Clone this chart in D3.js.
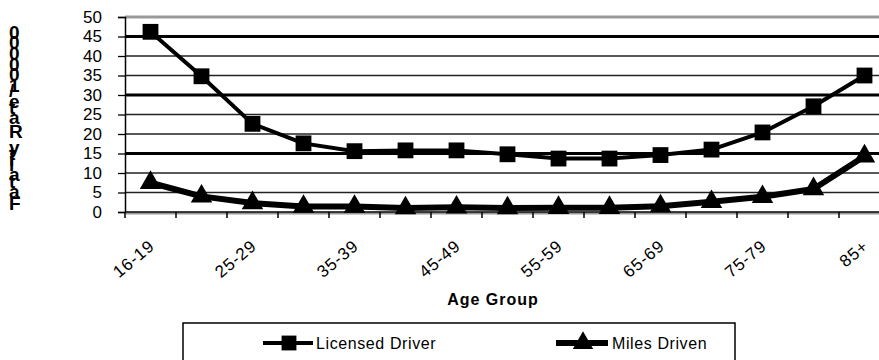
<!DOCTYPE html>
<html><head><meta charset="utf-8">
<script src="https://cdn.jsdelivr.net/npm/d3@7"></script>
<style>body{margin:0;background:#fff}svg{display:block}text{font-family:"Liberation Sans",Arial,sans-serif}</style>
</head><body>
<svg id="c" width="879" height="360"></svg>
<script>
const categories = ["16-19","20-24","25-29","30-34","35-39","40-44","45-49","50-54","55-59","60-64","65-69","70-74","75-79","80-84","85+"];
const licensedDriver = [46.2, 34.8, 22.6, 17.6, 15.6, 15.8, 15.8, 14.8, 13.7, 13.7, 14.6, 16.0, 20.4, 27.1, 35.0];
const milesDriven = [7.5, 4.0, 2.3, 1.4, 1.4, 1.0, 1.2, 1.0, 1.1, 1.1, 1.5, 2.6, 3.9, 5.9, 14.3];
const yTicks = [0,5,10,15,20,25,30,35,40,45,50];
const majorGrid = [15,30,45];
const shownLabels = ["16-19","25-29","35-39","45-49","55-59","65-69","75-79","85+"];
const yLabel = "Fatality Rate/100000";
const xLabel = "Age Group";
const seriesNames = ["Licensed Driver","Miles Driven"];

const svg = d3.select("#c");
const L = 125, T = 17, B = 212, step = 51;
const x = d3.scaleBand().domain(categories).range([L, L + step*categories.length]).padding(0);
const y = d3.scaleLinear().domain([0,50]).range([B, T]);
const cx = d => x(d) + x.bandwidth()/2;

// gridlines
svg.append("g").selectAll("line").data(yTicks.filter(v=>v>0 && v<50)).join("line")
  .attr("x1", L).attr("x2", 879).attr("y1", d=>y(d)).attr("y2", d=>y(d))
  .attr("stroke", d=>majorGrid.includes(d)?"#000":"#222")
  .attr("stroke-width", d=>majorGrid.includes(d)?3:1.3);
// top border
svg.append("line").attr("x1",L).attr("x2",879).attr("y1",y(50)).attr("y2",y(50)).attr("stroke","#999").attr("stroke-width",3);

// y axis
const ya = svg.append("g").attr("transform",`translate(${L},0)`)
  .call(d3.axisLeft(y).tickValues(yTicks).tickSize(7).tickPadding(16));
ya.select(".domain").attr("stroke","#000").attr("stroke-width",1.5);
ya.selectAll(".tick line").attr("stroke","#000").attr("stroke-width",1.3);
ya.selectAll(".tick text").attr("font-size",17).attr("fill","#000").attr("font-family","Liberation Sans, Arial, sans-serif");

// x axis
svg.append("line").attr("x1",L).attr("x2",879).attr("y1",B+1.5).attr("y2",B+1.5).attr("stroke","#999").attr("stroke-width",2);
const xa = svg.append("g").attr("transform",`translate(0,${B})`)
  .call(d3.axisBottom(x).tickSize(0).tickFormat(d=>shownLabels.includes(d)?d:""));
xa.select(".domain").remove();
svg.append("line").attr("x1",L).attr("x2",879).attr("y1",B).attr("y2",B).attr("stroke","#000").attr("stroke-width",1.5);
svg.append("g").selectAll("line").data(categories.concat(["_end"])).join("line")
  .attr("x1",(d,i)=>L+i*x.bandwidth()).attr("x2",(d,i)=>L+i*x.bandwidth())
  .attr("y1",B).attr("y2",B+6).attr("stroke","#000").attr("stroke-width",1.5);
xa.selectAll(".tick text")
  .attr("font-size",17).attr("fill","#000").attr("font-family","Liberation Sans, Arial, sans-serif")
  .attr("letter-spacing",0.8)
  .attr("text-anchor","end").attr("dy",0).attr("y",0)
  .attr("transform","translate(5,36) rotate(-40)");

// lines
const line = d3.line().x((d,i)=>cx(categories[i])).y(d=>y(d));
svg.append("path").datum(licensedDriver).attr("d",line).attr("fill","none").attr("stroke","#000").attr("stroke-width",4).attr("stroke-linejoin","round");
svg.append("path").datum(milesDriven).attr("d",line).attr("fill","none").attr("stroke","#000").attr("stroke-width",6).attr("stroke-linejoin","round");

svg.append("g").selectAll("path").data(licensedDriver).join("path")
  .attr("d", d3.symbol(d3.symbolSquare, 250))
  .attr("transform",(d,i)=>`translate(${cx(categories[i])},${y(d)})`).attr("fill","#000");
svg.append("g").selectAll("path").data(milesDriven).join("path")
  .attr("d", d3.symbol(d3.symbolTriangle, 200))
  .attr("transform",(d,i)=>`translate(${cx(categories[i])},${y(d)})`).attr("fill","#000");

// y label: upright glyphs stacked bottom-to-top
svg.append("text").attr("transform","translate(9,210) rotate(-90)")
  .attr("x",0).attr("y",0).attr("rotate",90)
  .attr("font-size",19).attr("font-weight","bold").attr("fill","#000")
  .text(yLabel);

// x label
svg.append("text").attr("x",493).attr("y",305).attr("text-anchor","middle")
  .attr("font-size",16).attr("font-weight","bold").attr("letter-spacing",1).text(xLabel);

// legend
svg.append("rect").attr("x",183).attr("y",323).attr("width",552).attr("height",60)
  .attr("fill","none").attr("stroke","#000").attr("stroke-width",1.5);
const lg = svg.append("g");
lg.append("line").attr("x1",263).attr("x2",313).attr("y1",343).attr("y2",343).attr("stroke","#000").attr("stroke-width",4);
lg.append("path").attr("d",d3.symbol(d3.symbolSquare,220)).attr("transform","translate(289,343)");
lg.append("text").attr("x",316).attr("y",349).attr("font-size",16).attr("letter-spacing",0.6).text(seriesNames[0]);
lg.append("line").attr("x1",556).attr("x2",608).attr("y1",343).attr("y2",343).attr("stroke","#000").attr("stroke-width",6);
lg.append("path").attr("d",d3.symbol(d3.symbolTriangle,180)).attr("transform","translate(583,343)");
lg.append("text").attr("x",612).attr("y",349).attr("font-size",16).attr("letter-spacing",0.6).text(seriesNames[1]);
</script>
</body></html>
